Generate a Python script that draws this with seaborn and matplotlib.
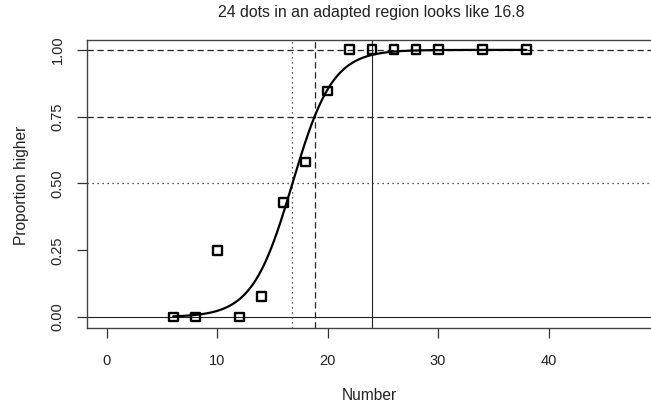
import numpy as np
import pandas as pd
import matplotlib
matplotlib.use("Agg")
import matplotlib.pyplot as plt
import seaborn as sns

# Data
numbers = [6, 8, 10, 12, 14, 16, 18, 20, 22, 24, 26, 28, 30, 34, 38]
proportions = [0.0, 0.0, 0.25, 0.0, 0.077, 0.43, 0.58, 0.846, 1.0, 1.0, 1.0, 1.0, 1.0, 1.0, 1.0]
x_ticks = [0, 10, 20, 30, 40]
y_ticks = [0.0, 0.25, 0.5, 0.75, 1.0]
y_tick_labels = ["0.00", "0.25", "0.50", "0.75", "1.00"]

# Fitted logistic model parameters
midpoint = 16.8      # 50% point
point75 = 18.8       # 75% point
ref_x = 24           # number of dots
slope = np.log(3) / (point75 - midpoint)

title = "24 dots in an adapted region looks like 16.8"

sns.set_theme(style="white")
plt.rcParams["font.family"] = ["Liberation Sans", "DejaVu Sans"]

fig = plt.figure(figsize=(6.51, 4.07), dpi=100)
ax = fig.add_axes([87 / 651, 79 / 407, 1 - 87 / 651 + 0.002, 288 / 407])

dark = "#222222"

# reference lines
ax.axhline(1.0, color=dark, lw=0.9, ls=(0, (5, 3)), zorder=1)
ax.axhline(0.75, color=dark, lw=0.9, ls=(0, (5, 3)), zorder=1)
ax.axhline(0.5, color=dark, lw=0.9, ls=(0, (1, 3)), zorder=1)
ax.axhline(0.0, color=dark, lw=0.8, ls="-", zorder=1)
ax.axvline(midpoint, color=dark, lw=0.9, ls=(0, (1, 3)), zorder=1)
ax.axvline(point75, color=dark, lw=0.9, ls=(0, (5, 3)), zorder=1)
ax.axvline(ref_x, color=dark, lw=0.8, ls="-", zorder=1)

# fitted curve
xs = np.linspace(min(numbers), max(numbers), 300)
curve = pd.DataFrame({"x": xs, "p": 1 / (1 + np.exp(-slope * (xs - midpoint)))})
sns.lineplot(data=curve, x="x", y="p", color="black", lw=1.6, ax=ax, zorder=3)

# observed points
pts = pd.DataFrame({"Number": numbers, "Proportion": proportions})
sns.scatterplot(data=pts, x="Number", y="Proportion", marker="s", s=40,
                facecolor="none", edgecolor="black", linewidth=1.7, ax=ax, zorder=4)

ax.set_xlim(-1.81, 49.4)
ax.set_ylim(-0.041, 1.037)
ax.set_xticks(x_ticks)
ax.set_xticklabels([str(t) for t in x_ticks])
ax.set_yticks(y_ticks)
ax.set_yticklabels(y_tick_labels, rotation=90, va="center")
ax.tick_params(axis="both", direction="out", length=7, width=0.9, color="#333333",
               labelsize=10.5, labelcolor="#222222", bottom=True, left=True)
ax.tick_params(axis="x", pad=12)
ax.tick_params(axis="y", pad=9)
ax.set_xlabel("")
ax.set_ylabel("")
for side in ["left", "bottom", "top"]:
    ax.spines[side].set_color("#444444")
    ax.spines[side].set_linewidth(1.0)
ax.spines["right"].set_visible(False)

fig.text(371 / 651, 1 - 13 / 407, title, ha="center", va="center", fontsize=11.4, color="#222222")
fig.text(369 / 651, 1 - 395 / 407, "Number", ha="center", va="center", fontsize=11.2, color="#222222")
fig.text(22 / 651, 1 - 185 / 407, "Proportion higher", ha="center", va="center",
         rotation=90, fontsize=11.2, color="#222222")

fig.savefig("out.png", dpi=100)
